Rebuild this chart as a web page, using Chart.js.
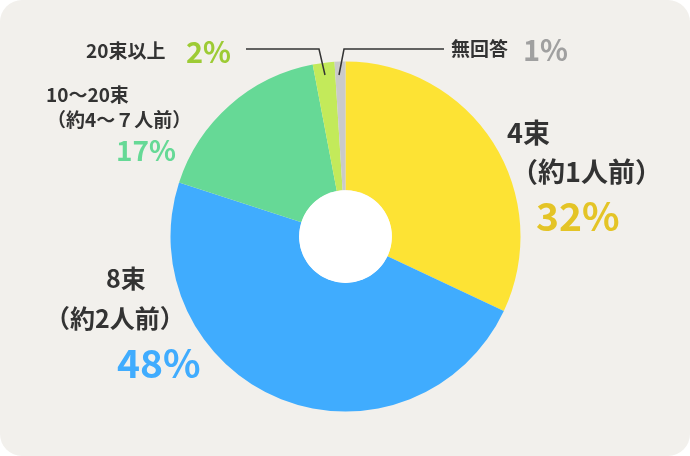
<!DOCTYPE html>
<html><head><meta charset="utf-8">
<script src="https://cdn.jsdelivr.net/npm/chart.js@4"></script>
<style>
html,body{margin:0;padding:0;background:#ffffff;}
#wrap{position:absolute;left:0;top:0;width:690px;height:456px;background:#f2f0ec;border-radius:22px;overflow:hidden;}
canvas{display:block;}
</style></head>
<body><div id="wrap"><canvas id="c" width="690" height="456"></canvas></div>
<script>
const categories = ['4束（約1人前）', '8束（約2人前）', '10〜20束（約4〜７人前）', '20束以上', '無回答'];
const values = [32, 48, 17, 2, 1];
const sliceColors = ['#fde334', '#40acfe', '#66d996', '#c3ea5a', '#cacaca'];
const pctColors = ['#e4c426', '#40acfe', '#66d996', '#9dcb35', '#a0a0a0'];

const FONT = '"Noto Sans CJK JP", "Noto Sans", sans-serif';
const DARK = '#333333';

const labelPlugin = {
  id: 'labels',
  afterDatasetsDraw(chart) {
    const ctx = chart.ctx;
    const arc = chart.getDatasetMeta(0).data[0];
    // white centre hole
    ctx.save();
    ctx.beginPath();
    ctx.arc(arc.x, arc.y, arc.innerRadius, 0, Math.PI * 2);
    ctx.fillStyle = '#ffffff';
    ctx.fill();
    ctx.restore();

    ctx.save();
    ctx.textBaseline = 'middle';
    function txt(s, x, y, size, color, weight, align) {
      ctx.font = (weight || 'bold') + ' ' + size + 'px ' + FONT;
      ctx.fillStyle = color;
      ctx.textAlign = align || 'left';
      ctx.fillText(s, x, y);
    }
    // 4束
    txt('4束', 507, 133, 27, DARK);
    txt('（約1人前）', 511, 172, 27, DARK);
    txt(values[0] + '%', 536, 216, 39, pctColors[0]);
    // 8束
    txt('8束', 106, 278, 25, DARK);
    txt('（約2人前）', 45, 318, 25, DARK);
    txt(values[1] + '%', 117, 363, 39, pctColors[1]);
    // 10〜20束
    txt('10〜20束', 46, 95, 19, DARK);
    txt('（約4〜７人前）', 47, 120, 19, DARK);
    txt(values[2] + '%', 116, 150, 28, pctColors[2]);
    // 20束以上
    txt('20束以上', 86, 51, 19, DARK);
    txt(values[3] + '%', 186, 52, 29, pctColors[3]);
    // 無回答
    txt('無回答', 451, 49, 19, DARK);
    txt(values[4] + '%', 523, 50, 29, pctColors[4]);

    // leader lines
    ctx.strokeStyle = '#333333';
    ctx.lineWidth = 1.5;
    ctx.beginPath();
    ctx.moveTo(246, 49); ctx.lineTo(319, 49); ctx.lineTo(325, 75);
    ctx.stroke();
    ctx.beginPath();
    ctx.moveTo(444, 49); ctx.lineTo(344, 49); ctx.lineTo(339, 75);
    ctx.stroke();
    ctx.restore();
  }
};

new Chart(document.getElementById('c'), {
  type: 'doughnut',
  data: {
    labels: categories,
    datasets: [{
      data: values,
      backgroundColor: sliceColors,
      borderWidth: 0,
      hoverOffset: 0
    }]
  },
  options: {
    responsive: false,
    animation: false,
    cutout: '26.5%',
    layout: { padding: { top: 61.5, bottom: 44.5, left: 170.5, right: 169.5 } },
    plugins: { legend: { display: false }, tooltip: { enabled: false } }
  },
  plugins: [labelPlugin]
});
</script>
</body></html>
